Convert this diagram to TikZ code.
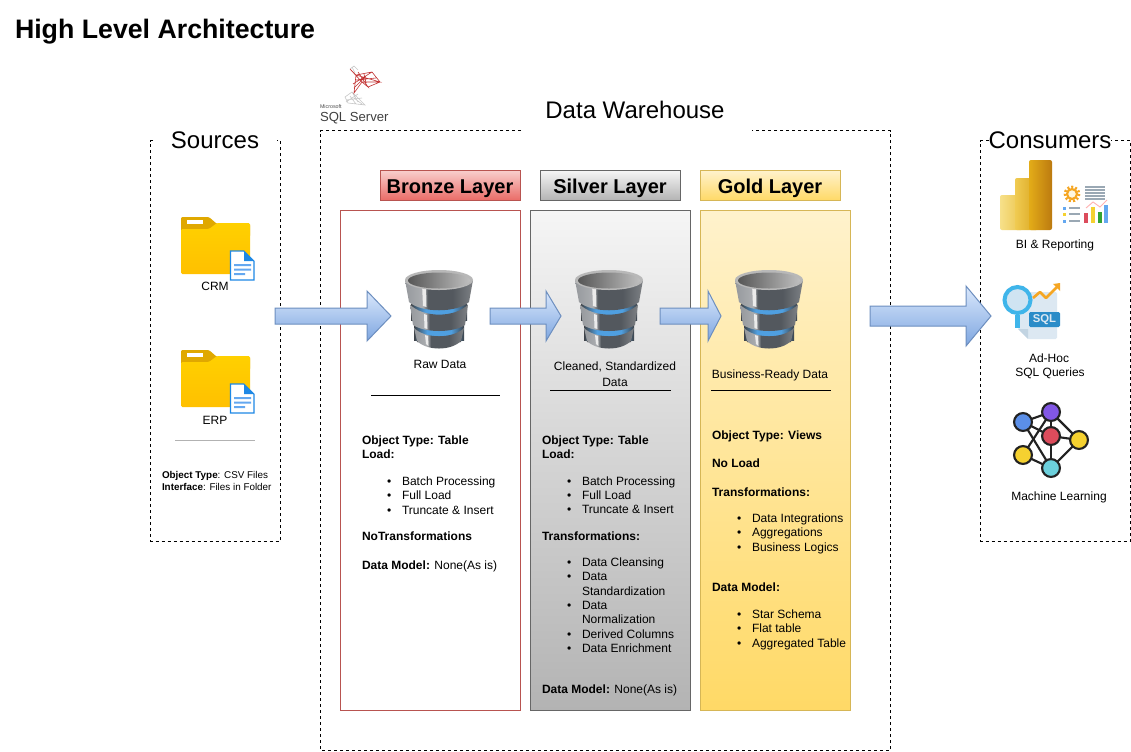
\documentclass[tikz,border=0pt]{standalone}
\usepackage{fontspec}
\setmainfont{Liberation Sans}
\definecolor{dbleft}{HTML}{96999D}
\definecolor{dbmid}{HTML}{53585E}
\definecolor{dbright}{HTML}{7E8185}
\definecolor{dbgap}{HTML}{3F4348}
\definecolor{dbglow}{HTML}{4F9FE0}
\pgfdeclarehorizontalshading{dbband}{100bp}{color(0bp)=(dbleft); color(25bp)=(dbleft); color(38bp)=(dbleft!80!white); color(42bp)=(dbmid); color(60bp)=(dbmid); color(75bp)=(dbright); color(100bp)=(dbright)}
\pgfdeclarehorizontalshading{dbglowshade}{100bp}{color(0bp)=(dbgap); color(25bp)=(dbgap); color(38bp)=(dbglow); color(62bp)=(dbglow); color(75bp)=(dbgap); color(100bp)=(dbgap)}
\tikzset{
  every node/.style={inner sep=0pt,outer sep=0pt,text=black},
  box/.style={draw=black,dash pattern=on 2.25pt off 2.25pt,line width=.75pt},
  fs12/.style={font=\fontsize{9}{11}\selectfont,anchor=base west,yshift=.4pt},
  fs12c/.style={font=\fontsize{9}{11}\selectfont,anchor=center},
  fs10/.style={font=\fontsize{7.4}{9}\selectfont,anchor=base west},
  headline/.style={font=\fontsize{18}{20}\selectfont,anchor=center},
  layerhead/.style={font=\bfseries\fontsize{15}{17}\selectfont,anchor=center},
  bronzehead/.style={draw=bronzeline,top color=bronzetop,bottom color=bronzebot,line width=.75pt},
  silverfill/.style={draw=silverline,top color=silvertop,bottom color=silverbot,line width=.75pt},
  goldfill/.style={draw=goldline,top color=goldtop,bottom color=goldbot,line width=.75pt},
  blockarrow/.style={draw=arrowline,top color=arrowtop,bottom color=arrowbot,line width=.75pt,line join=miter},
  rulefine/.style={draw=black,line width=.6pt},
  mlnode/.style={circle,draw=mlink,line width=1.6pt,minimum size=13.4pt},
  mledge/.style={draw=mlink,line width=1.6pt},
}
\definecolor{bronzeline}{HTML}{B85450}\definecolor{bronzetop}{HTML}{F8CECC}\definecolor{bronzebot}{HTML}{EA6B66}
\definecolor{silverline}{HTML}{666666}\definecolor{silvertop}{HTML}{F5F5F5}\definecolor{silverbot}{HTML}{B3B3B3}
\definecolor{goldline}{HTML}{D6B656}\definecolor{goldtop}{HTML}{FFF2CC}\definecolor{goldbot}{HTML}{FFD966}
\definecolor{arrowline}{HTML}{6C8EBF}\definecolor{arrowtop}{HTML}{DAE8FC}\definecolor{arrowbot}{HTML}{7EA6E0}
\definecolor{mlink}{HTML}{222222}
\definecolor{folderY}{HTML}{FFD000}\definecolor{folderB}{HTML}{FFC000}\definecolor{folderT}{HTML}{E0A800}
\definecolor{docB}{HTML}{1E88E5}\definecolor{docL}{HTML}{64A8F0}
\definecolor{sqlpage}{HTML}{DCE8F2}\definecolor{sqlpagefold}{HTML}{C2D4E2}\definecolor{sqlcyan}{HTML}{3FB5EA}
\definecolor{sqllens}{HTML}{CFE4F2}\definecolor{sqlbadge}{HTML}{2B8CC8}\definecolor{sqlorange}{HTML}{F5A623}
\definecolor{mBlue}{HTML}{5B8FE8}\definecolor{mPurple}{HTML}{8257E5}\definecolor{mRed}{HTML}{DC4C5C}
\definecolor{mYellow}{HTML}{F5D130}\definecolor{mCyan}{HTML}{6CD0DC}
\definecolor{pbA}{HTML}{F7E08A}\definecolor{pbB}{HTML}{EBC44A}\definecolor{pbC}{HTML}{F0CB52}\definecolor{pbD}{HTML}{D9A51E}
\definecolor{pbE}{HTML}{E3AC18}\definecolor{pbF}{HTML}{BC7A10}
\definecolor{repGrey}{HTML}{9AA8B4}
% block arrow: name, x0, x-head-base, x-tip, y-centre, half tail, half head
\newcommand\blockarr[7]{%
  \coordinate (#1s) at (#2,#5);\coordinate (#1e) at (#4,#5);
  \draw[blockarrow] (#2,#5-#6) -- (#3,#5-#6) -- (#3,#5-#7) -- (#1e) -- (#3,#5+#7) -- (#3,#5+#6) -- (#2,#5+#6) -- cycle;}
\newcommand\dbicon[2]{%
 \begin{scope}[shift={(#1,#2)}]
  \fill[dbgap] (4,14) -- (12,72) -- (56,72) -- (64,14) -- cycle;
  \shade[shading=dbglowshade] (6,34) rectangle (62,50);
  \shade[shading=dbglowshade] (9,54) rectangle (59,70);
  \shade[shading=dbband] (9,58) .. controls (20,69) and (48,69) .. (59,58) -- (56,71) .. controls (46,81) and (22,81) .. (12,71) -- cycle;
  \shade[shading=dbband] (5,34.5) .. controls (18,48) and (50,48) .. (63,34.5) -- (60,55) .. controls (48,63) and (20,63) .. (8,55) -- cycle;
  \shade[shading=dbband] (0,10) -- (4,32) .. controls (16,43) and (52,43) .. (64,32) -- (68,10) -- cycle;
  \fill[white!92!black] (17,14) -- (21,14) -- (21.5,37) -- (18,36) -- cycle;
  \fill[white!92!black] (19,44) -- (22,45) -- (22.5,59) -- (19.5,58) -- cycle;
  \fill[white!92!black] (20,65) -- (23,66) -- (23.5,76) -- (21,74) -- cycle;
  \fill[black!28] (34,10) ellipse[x radius=34,y radius=10];
  \shade[left color=black!66,right color=black!25] (34,10.5) ellipse[x radius=31,y radius=8];
 \end{scope}}
\newcommand\foldericon[2]{%
 \begin{scope}[shift={(#1,#2)}]
  \fill[folderT] (0,2) [rounded corners=1pt] -- (0,20) -- (69,20) -- (69,7) -- (36,7) -- (28,0) -- (0,0) -- cycle;
  \shade[top color=folderY,bottom color=folderB,rounded corners=1pt] (0,12) -- (28,12) -- (36,6) -- (69,6) -- (69,57) -- (0,57) -- cycle;
  \fill[white] (6,3) rectangle (22,6.5);
  \fill[white,draw=docB,line width=.8pt] (49.5,34) -- (63,34) -- (73,44) -- (73,63) -- (49.5,63) -- cycle;
  \fill[docB] (63,34) -- (73,44) -- (63,44) -- cycle;
  \fill[docL] (53,47) rectangle (70,49) (53,51.5) rectangle (70,53.5) (53,56) rectangle (64,58);
 \end{scope}}
\newcommand\txt[4]{\node[fs12] (#1) at (#2,#3) {#4};}
\newcommand\bitem[5]{\node[fs12] (#1b) at (#2,#3) {•};\node[fs12] (#1) at (#4,#3) {#5};}
\begin{document}
\begin{tikzpicture}[x=.75pt,y=-.75pt]
\useasboundingbox (0,0) rectangle (1131,751);
\fill[white] (0,0) rectangle (1131,751);
\node[font=\bfseries\fontsize{20.05}{22}\selectfont,anchor=base west] (title) at (15,38.5) {High Level Architecture};
% containers
\draw[box] (153,140.5) -- (150.5,140.5) -- (150.5,541) -- (280.5,541) -- (280.5,140.5) -- (277,140.5);
\draw[box] (521,130.5) -- (320.5,130.5) -- (320.5,750.5) -- (890.5,750.5) -- (890.5,130.5) -- (752,130.5);
\draw[box] (989,140.5) -- (980.5,140.5) -- (980.5,541) -- (1130.5,541) -- (1130.5,140.5) -- (1111,140.5);
\node[headline] (sources) at (215,140) {Sources};
\node[headline] (dw) at (635,110) {Data Warehouse};
\node[headline] (consumers) at (1050,140) {Consumers};
% SQL Server logo
\begin{scope}[line width=.45pt]
 \draw[black!22] (345,97) -- (352,92) -- (365,105) -- (348,103) -- cycle (352,92) -- (358,102) (346,100) -- (362,98) (350,96) -- (356,104) (346,102) -- (358,94) (354,98) -- (362,104);
 \draw[black!22] (350,69) -- (354,66) -- (358,70) (352,67) -- (355,73);
 \draw[red!70!black!80!white] (350,69) -- (356,75) -- (380,82) -- (362,82) -- (354,93) -- (356,75) (350,69) -- (362,82) (356,75) -- (372,72) -- (380,82) (353,84) -- (372,72) (358,72) -- (368,87) -- (362,82) (356,80) -- (376,78) (364,74) -- (366,83) (354,88) -- (366,76) (368,87) -- (380,82);
\end{scope}
\node[font=\fontsize{4}{5}\selectfont,anchor=base west,text=black!70] (ms) at (320,108) {Microsoft};
\node[font=\fontsize{9.85}{12}\selectfont,anchor=base west,text=black!75] (sqlserver) at (320,121) {SQL Server};
% layers
\draw[bronzehead] (380.5,170.5) rectangle (520.5,200.5);
\node[layerhead] (bronze) at (450,188.5) {Bronze Layer};
\draw[silverfill] (540.5,170.5) rectangle (680.5,200.5);
\node[layerhead] (silver) at (610,188.5) {Silver Layer};
\draw[goldfill] (700.5,170.5) rectangle (840.5,200.5);
\node[layerhead] (gold) at (770,188.5) {Gold Layer};
\draw[draw=bronzeline,line width=.75pt] (340.5,210.5) rectangle (520.5,710.5);
\draw[silverfill] (530.5,210.5) rectangle (690.5,710.5);
\draw[goldfill] (700.5,210.5) rectangle (850.5,710.5);
% sources
\foldericon{181}{217}
\node[fs12c] (crm) at (215,286.5) {CRM};
\foldericon{181}{350}
\node[fs12c] (erp) at (215,420) {ERP};
\draw[black!30,line width=.75pt] (175,440.5) -- (255,440.5);
\node[fs10] (ot) at (162,478) {\textbf{Object Type}: CSV Files};
\node[fs10] (if) at (162,490) {\textbf{Interface}: Files in Folder};
% DB
\dbicon{405}{270}
\dbicon{575}{270}
\dbicon{735}{270}
% arrows
\blockarr{aone}{275}{367}{391}{316}{8}{25}
\blockarr{atwo}{490}{546}{561}{316}{8}{25}
\blockarr{athree}{660}{708}{721}{316}{8}{25}
\blockarr{afour}{870}{966}{991}{316}{10}{30}
% captions
\node[fs12c] (raw) at (440,364) {Raw Data};
\draw[rulefine] (371,395.5) -- (500,395.5);
\node[fs12c] (clean) at (615,367) {Cleaned, Standardized};
\node[fs12c] (clean2) at (615,382) {Data};
\draw[rulefine] (550,390.5) -- (671,390.5);
\node[fs12c] (biz) at (770,375) {Business-Ready Data};
\draw[rulefine] (711,390.5) -- (831,390.5);
% bronze
\txt{bo}{362}{445}{\textbf{Object Type: Table}}
\txt{bl}{362}{459}{\textbf{Load:}}
\bitem{bi1}{387}{486}{402}{Batch Processing}
\bitem{bi2}{387}{500}{402}{Full Load}
\bitem{bi3}{387}{515}{402}{Truncate \& Insert}
\txt{bt}{362}{541}{\textbf{NoTransformations}}
\txt{bm}{362}{570}{\textbf{Data Model:} None(As is)}
% silver
\txt{so}{542}{445}{\textbf{Object Type: Table}}
\txt{sl}{542}{459}{\textbf{Load:}}
\bitem{si1}{567}{486}{582}{Batch Processing}
\bitem{si2}{567}{500}{582}{Full Load}
\bitem{si3}{567}{514}{582}{Truncate \& Insert}
\txt{st}{542}{541}{\textbf{Transformations:}}
\bitem{si4}{567}{567}{582}{Data Cleansing}
\bitem{si5}{567}{581}{582}{Data}
\txt{si5b}{582}{596}{Standardization}
\bitem{si6}{567}{610}{582}{Data}
\txt{si6b}{582}{624}{Normalization}
\bitem{si7}{567}{639}{582}{Derived Columns}
\bitem{si8}{567}{653}{582}{Data Enrichment}
\txt{sm}{542}{694}{\textbf{Data Model:} None(As is)}
% gold
\txt{go}{712}{440}{\textbf{Object Type: Views}}
\txt{gl}{712}{468}{\textbf{No Load}}
\txt{gt}{712}{497}{\textbf{Transformations:}}
\bitem{gi1}{737}{523}{752}{Data Integrations}
\bitem{gi2}{737}{537}{752}{Aggregations}
\bitem{gi3}{737}{552}{752}{Business Logics}
\txt{gm}{712}{592}{\textbf{Data Model:}}
\bitem{gi4}{737}{619}{752}{Star Schema}
\bitem{gi5}{737}{633}{752}{Flat table}
\bitem{gi6}{737}{648}{752}{Aggregated Table}
% Power BI icon
\shade[rounded corners=1.5pt,left color=pbA,right color=pbB] (1000,195) rectangle (1023,230);
\shade[rounded corners=1.5pt,left color=pbC,right color=pbD] (1015,178) rectangle (1038,230);
\shade[rounded corners=1.5pt,left color=pbE,right color=pbF] (1029,160) rectangle (1052,230);
\draw[sqlorange,line width=1.6pt,fill=goldtop!60!white] (1072,194) circle[radius=5];
\draw[sqlorange,dash pattern=on 1.5pt off 1.5pt,line width=2pt] (1072,194) circle[radius=7];
\foreach \yy in {187,190,193,196,199}{\draw[repGrey,line width=.9pt] (1085,\yy) -- (1105,\yy);}
\foreach \yy/\cc in {208/docL,214/mYellow,221/docL}{\fill[\cc] (1063,\yy-1.5) rectangle (1066,\yy+1.5);\draw[repGrey,line width=1.8pt] (1069,\yy) -- (1080,\yy);}
\fill[mRed] (1084,213) rectangle (1088,223);\fill[mYellow] (1091,207) rectangle (1095,223);\fill[green!55!black!80!white] (1098,212) rectangle (1102,223);\fill[docL] (1104,205) rectangle (1108,223);
\draw[red!30,line width=.7pt] (1086,208) -- (1093,202) -- (1100,207) -- (1107,200);
\node[fs12c] (bi) at (1055,245) {BI \& Reporting};
% SQL icon
\fill[sqlpage,rounded corners=1pt] (1020,292) -- (1057,292) -- (1057,339) -- (1028,339) -- (1018,329) -- cycle;
\fill[sqlpagefold] (1018,329) -- (1028,329) -- (1028,339) -- cycle;
\draw[sqlorange,line width=2pt,line join=round] (1033,298) -- (1040,292) -- (1046,298) -- (1058,286);
\fill[sqlorange] (1060,283) -- (1060,291) -- (1053,284) -- cycle;
\fill[sqlcyan] (1015,315) rectangle (1020,328);
\draw[sqlcyan,line width=3pt,fill=sqllens] (1017.5,300) circle[radius=13];
\fill[sqlbadge,rounded corners=1pt] (1029,312) rectangle (1060,327);
\node[font=\bfseries\fontsize{8.5}{9}\selectfont,text=sqlpage,anchor=center] (sqlb) at (1044.5,319.5) {SQL};
\node[fs12c] (adhoc) at (1049,358) {Ad-Hoc};
\node[fs12c] (adhoc2) at (1050,373) {SQL Queries};
% ML icon
\node[mlnode,fill=mBlue] (mb) at (1023,422) {};
\node[mlnode,fill=mPurple] (mp) at (1051,412) {};
\node[mlnode,fill=mRed] (mr) at (1051,436) {};
\node[mlnode,fill=mYellow] (my) at (1079,440) {};
\node[mlnode,fill=mYellow] (ml) at (1023,455) {};
\node[mlnode,fill=mCyan] (mc) at (1051,468) {};
\begin{scope}[mledge]
\draw (mb) -- (mp);\draw (mb) -- (mr);\draw (mb) -- (mc);\draw (ml) -- (mp);\draw (ml) -- (mc);
\draw (mp) -- (mr);\draw (mp) -- (my);\draw (mr) -- (my);\draw (mr) -- (mc);\draw (my) -- (mc);
\end{scope}
\node[fs12c] (mlt) at (1059,497) {Machine Learning};
\end{tikzpicture}
\end{document}
